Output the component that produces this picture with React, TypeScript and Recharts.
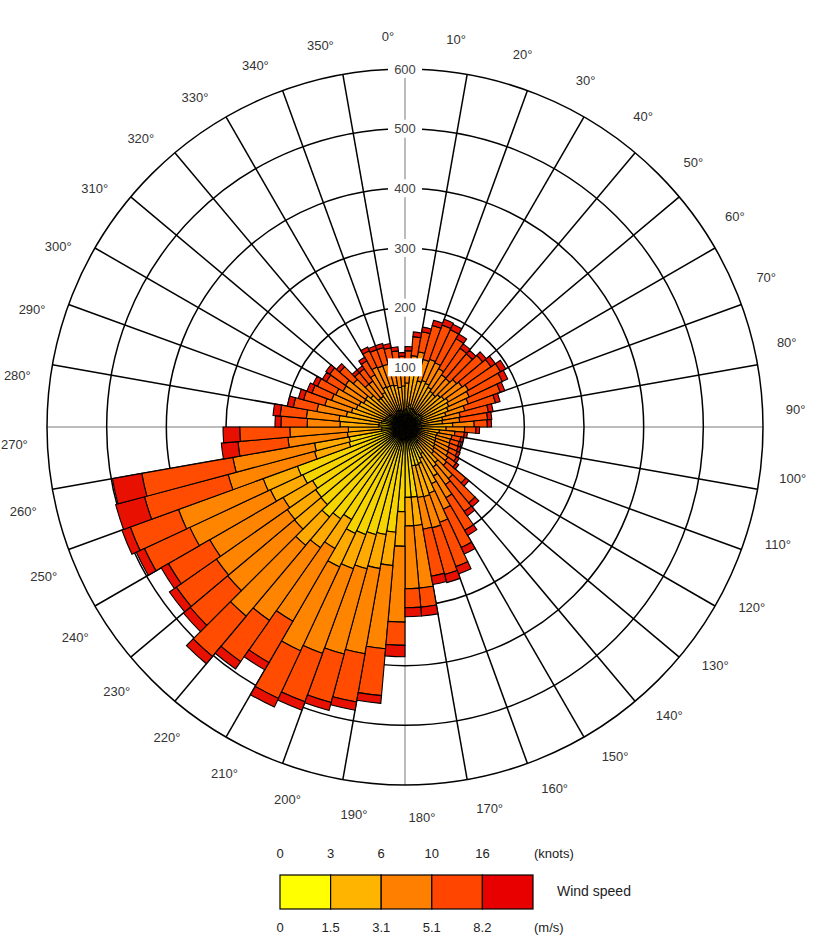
import React from 'react';
import { RadialBarChart, RadialBar, PolarAngleAxis, PolarRadiusAxis, PolarGrid } from 'recharts';

// Direction bins (bin centres, degrees clockwise from north)
const dirs = [
  2.5, 7.5, 12.5, 17.5, 22.5, 27.5, 32.5, 37.5, 42.5, 47.5,
  52.5, 57.5, 62.5, 67.5, 72.5, 77.5, 82.5, 87.5, 92.5, 97.5,
  102.5, 107.5, 112.5, 117.5, 122.5, 127.5, 132.5, 137.5, 142.5, 147.5,
  152.5, 157.5, 162.5, 167.5, 172.5, 177.5, 182.5, 187.5, 192.5, 197.5,
  202.5, 207.5, 212.5, 217.5, 222.5, 227.5, 232.5, 237.5, 242.5, 247.5,
  252.5, 257.5, 262.5, 267.5, 272.5, 277.5, 282.5, 287.5, 292.5, 297.5,
  302.5, 307.5, 312.5, 317.5, 322.5, 327.5, 332.5, 337.5, 342.5, 347.5,
  352.5, 357.5,
];

// Counts per speed class (m/s): 0-1.5, 1.5-3.1, 3.1-5.1, 5.1-8.2, >8.2
const speed0to1_5 = [
  28, 30, 35, 38, 32, 33, 32, 31, 29, 29,
  31, 32, 34, 32, 31, 28, 26, 25, 32, 28,
  23, 22, 22, 22, 22, 23, 24, 25, 31, 33,
  52, 58, 65, 67, 66, 118, 118, 142, 177, 183,
  187, 192, 197, 179, 188, 197, 184, 183, 179, 189,
  192, 97, 95, 40, 39, 44, 44, 40, 37, 35,
  34, 32, 32, 30, 25, 25, 27, 30, 29, 29,
  28, 27,
];
const speed1_5to3_1 = [
  41, 44, 53, 56, 48, 50, 49, 46, 44, 43,
  46, 48, 50, 49, 46, 43, 38, 38, 48, 41,
  35, 33, 32, 33, 34, 35, 36, 38, 47, 49,
  43, 47, 53, 54, 54, 48, 48, 58, 56, 58,
  59, 61, 62, 56, 59, 62, 58, 58, 57, 60,
  61, 60, 59, 57, 56, 65, 67, 60, 56, 52,
  51, 48, 49, 45, 38, 38, 40, 44, 44, 44,
  43, 40,
];
const speed3_1to5_1 = [
  25, 27, 32, 34, 37, 38, 38, 36, 34, 34,
  36, 37, 39, 38, 36, 33, 30, 29, 36, 31,
  26, 25, 25, 25, 26, 26, 28, 28, 35, 36,
  42, 47, 52, 54, 54, 105, 105, 127, 140, 145,
  148, 151, 155, 141, 149, 155, 146, 145, 142, 149,
  151, 150, 139, 100, 98, 55, 55, 50, 46, 44,
  43, 40, 41, 38, 31, 31, 34, 37, 36, 36,
  36, 34,
];
const speed5_1to8_2 = [
  25, 27, 32, 34, 59, 61, 61, 58, 54, 54,
  57, 59, 62, 61, 57, 53, 48, 47, 22, 19,
  16, 15, 15, 15, 15, 16, 17, 42, 53, 55,
  63, 71, 79, 81, 80, 32, 32, 39, 79, 82,
  84, 86, 88, 80, 84, 88, 82, 82, 80, 84,
  86, 145, 155, 84, 84, 44, 44, 40, 37, 35,
  34, 32, 32, 30, 25, 25, 27, 30, 29, 29,
  28, 27,
];
const speedOver8_2 = [
  6, 7, 8, 8, 9, 10, 10, 9, 9, 8,
  8, 9, 10, 10, 8, 8, 8, 7, 7, 6,
  5, 5, 4, 5, 5, 5, 5, 7, 9, 9,
  10, 12, 13, 14, 14, 15, 15, 19, 13, 14,
  14, 15, 16, 14, 15, 16, 15, 14, 14, 15,
  15, 50, 50, 28, 28, 10, 12, 10, 9, 9,
  8, 8, 8, 7, 6, 6, 7, 7, 7, 7,
  7, 7,
];

const classKeys = ['s1', 's2', 's3', 's4', 's5'];
// colours as they appear inside the rose, and in the legend bar
const barColors = ['#F6D400', '#FFAA00', '#FF8400', '#FF4C00', '#E81000'];
const legendColors = ['#FFFF00', '#FFB400', '#FF8000', '#FF4500', '#E80000'];

// Compass ticks (degrees clockwise from north)
const spokeDegrees = [10, 20, 30, 40, 50, 60, 70, 80, 100, 110, 120, 130, 140, 150, 160, 170,
  190, 200, 210, 220, 230, 240, 250, 260, 280, 290, 300, 310, 320, 330, 340, 350];
const cardinalDegrees = [0, 90, 180, 270];
const radiusTicks = [100, 200, 300, 400, 500, 600];
const BIN_HALF = 2.5;

// Legend labels
const knotsLabels = ['0', '3', '6', '10', '16'];
const msLabels = ['0', '1.5', '3.1', '5.1', '8.2'];

const data = dirs.map((d, i) => ({
  dir: d,
  s1: speed0to1_5[i],
  s2: speed1_5to3_1[i],
  s3: speed3_1to5_1[i],
  s4: speed5_1to8_2[i],
  s5: speedOver8_2[i],
}));

const FONT = '"Liberation Sans", Arial, sans-serif';
const W = 817;
const H = 945;
const CX = 405;
const CY = 427;
const R = 358;
const LABEL_GAP = 33;

// compass degrees -> recharts polar angle (0 = east, counter-clockwise)
const toPolar = (deg: number) => 90 - deg;

// Direction label: drawn on every other bin, at the bin's leading edge (a multiple of 10 degrees)
const AngleTick = (props: any) => {
  const { payload, index } = props;
  const cx = typeof props.cx === 'number' ? props.cx : CX;
  const cy = typeof props.cy === 'number' ? props.cy : CY;
  if (index % 2 !== 0) return <g />;
  const label = payload.value - BIN_HALF;
  const angle = ((payload.coordinate + BIN_HALF) * Math.PI) / 180;
  const r = R + LABEL_GAP;
  const x = cx + r * Math.cos(angle);
  const y = cy - r * Math.sin(angle);
  return (
    <text x={x} y={y} textAnchor="middle" dominantBaseline="central" fontSize={13} fill="#333" fontFamily={FONT}>
      {`${label}°`}
    </text>
  );
};

const RadiusTick = (props: any) => {
  const { x, y, payload } = props;
  return (
    <g>
      <rect x={x - 17} y={y - 9} width={34} height={18} fill="#fff" />
      <text x={x} y={y} textAnchor="middle" dominantBaseline="central" fontSize={13} fill="#444" fontFamily={FONT}>
        {payload.value}
      </text>
    </g>
  );
};

const Legend = () => {
  const x0 = 280;
  const w = 50.6;
  return (
    <svg width={W} height={H} style={{ position: 'absolute', left: 0, top: 0, pointerEvents: 'none' }}>
      {legendColors.map((c, i) => (
        <rect key={c} x={x0 + i * w} y={875} width={w} height={34} fill={c} stroke="#000" strokeWidth={1.2} />
      ))}
      {knotsLabels.map((t, i) => (
        <text key={'k' + t} x={x0 + i * w} y={853} textAnchor="middle" dominantBaseline="central" fontSize={13} fill="#222" fontFamily={FONT}>{t}</text>
      ))}
      {msLabels.map((t, i) => (
        <text key={'m' + t} x={x0 + i * w} y={927} textAnchor="middle" dominantBaseline="central" fontSize={13} fill="#222" fontFamily={FONT}>{t}</text>
      ))}
      <text x={534} y={853} dominantBaseline="central" fontSize={13} fill="#222" fontFamily={FONT}>(knots)</text>
      <text x={534} y={927} dominantBaseline="central" fontSize={13} fill="#222" fontFamily={FONT}>(m/s)</text>
      <text x={557} y={891} dominantBaseline="central" fontSize={14} fill="#222" fontFamily={FONT}>Wind speed</text>
    </svg>
  );
};

export default function App() {
  return (
    <div style={{ position: 'absolute', left: 0, top: 0, width: W, height: H, background: '#fff' }}>
      <RadialBarChart
        width={W}
        height={H}
        cx={CX}
        cy={CY}
        innerRadius={0}
        outerRadius={R}
        startAngle={90}
        endAngle={-270}
        layout="centric"
        data={data}
        barCategoryGap={0}
        barGap={0}
        margin={{ top: 0, right: 0, bottom: 0, left: 0 }}
      >
        <PolarAngleAxis
          angleAxisId="cat"
          dataKey="dir"
          type="category"
          tick={AngleTick}
          tickLine={false}
          axisLine={false}
        />
        {classKeys.map((k, i) => (
          <RadialBar
            key={k}
            dataKey={k}
            stackId="speed"
            angleAxisId="cat"
            radiusAxisId="r"
            fill={barColors[i]}
            stroke="#000"
            strokeWidth={1.1}
            isAnimationActive={false}
          />
        ))}
        <PolarGrid
          angleAxisId="cat"
          radiusAxisId="r"
          gridType="circle"
          polarAngles={cardinalDegrees.map(toPolar)}
          polarRadius={[]}
          stroke="#555"
          strokeWidth={0.8}
        />
        <PolarGrid
          angleAxisId="cat"
          radiusAxisId="r"
          gridType="circle"
          polarAngles={spokeDegrees.map(toPolar)}
          stroke="#000"
          strokeWidth={1.5}
        />
        <PolarRadiusAxis
          radiusAxisId="r"
          type="number"
          domain={[0, 600]}
          ticks={radiusTicks}
          angle={90}
          axisLine={false}
          tickLine={false}
          tick={RadiusTick}
        />
      </RadialBarChart>
      <Legend />
    </div>
  );
}
